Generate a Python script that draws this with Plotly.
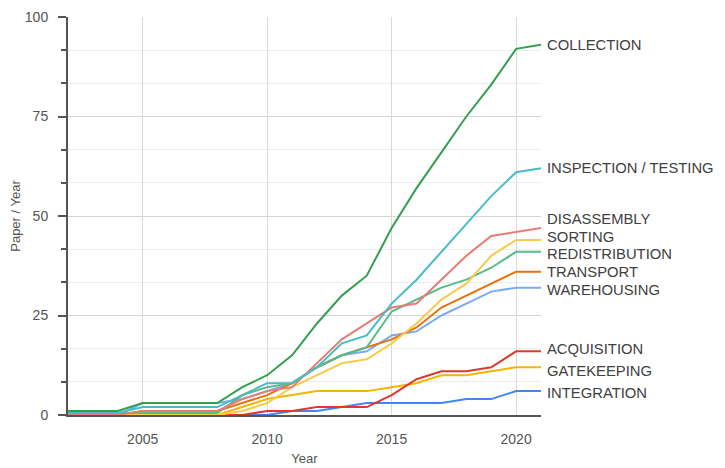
import plotly.graph_objects as go

years = list(range(2002, 2022))

collection     = [1, 1, 1, 3, 3, 3, 3, 7, 10, 15, 23, 30, 35, 47, 57, 66, 75, 83, 92, 93]
inspection     = [0.5, 0.5, 0.5, 2, 2, 2, 2, 5, 8, 8, 12, 18, 20, 28, 34, 41, 48, 55, 61, 62]
disassembly    = [0, 0, 0, 1, 1, 1, 1, 4, 6, 7, 13, 19, 23, 27, 28, 34, 40, 45, 46, 47]
sorting        = [0, 0, 0, 0, 0, 0, 0, 1, 3, 7, 10, 13, 14, 18, 23, 29, 33, 40, 44, 44]
redistribution = [0.5, 0.5, 0.5, 0.5, 0.5, 0.5, 0.5, 5, 7, 8, 12, 15, 17, 26, 29, 32, 34, 37, 41, 41]
transport      = [0, 0, 0, 1, 1, 1, 1, 3, 5, 8, 12, 15, 17, 19, 22, 27, 30, 33, 36, 36]
warehousing    = [0, 0, 0, 3, 3, 3, 3, 4, 6, 8, 12, 15, 16, 20, 21, 25, 28, 31, 32, 32]
acquisition    = [0, 0, 0, 0, 0, 0, 0, 0, 1, 1, 2, 2, 2, 5, 9, 11, 11, 12, 16, 16]
gatekeeping    = [0, 0, 0, 0, 0, 0, 0, 2, 4, 5, 6, 6, 6, 7, 8, 10, 10, 11, 12, 12]
integration    = [0, 0, 0, 0, 0, 0, 0, 0, 0, 1, 1, 2, 3, 3, 3, 3, 4, 4, 6, 6]

series_names = ["COLLECTION", "INSPECTION / TESTING", "DISASSEMBLY", "SORTING",
                "REDISTRIBUTION", "TRANSPORT", "WAREHOUSING", "ACQUISITION",
                "GATEKEEPING", "INTEGRATION"]
series_values = [collection, inspection, disassembly, sorting, redistribution,
                 transport, warehousing, acquisition, gatekeeping, integration]

colors = ["#34a04f", "#46bdc6", "#e67c73", "#f7cb4d", "#57bb8a",
          "#e8710a", "#7baaf7", "#e0392b", "#f4b400", "#4285f4"]
label_yshift = [0, 0, 9, 3, -2, 0, -2, 2, -4, -2]

fig = go.Figure()
# draw in reverse so COLLECTION is on top
for name, vals, col in reversed(list(zip(series_names, series_values, colors))):
    fig.add_trace(go.Scatter(x=years, y=vals, mode="lines", name=name,
                             line=dict(color=col, width=2), showlegend=False))

for name, vals, col, ys in zip(series_names, series_values, colors, label_yshift):
    fig.add_annotation(x=years[-1], y=vals[-1], text=name, showarrow=False,
                       xanchor="left", yanchor="middle", xshift=4, yshift=ys,
                       font=dict(size=14.8, color="#404040"))

fig.update_layout(
    width=725, height=468,
    margin=dict(l=60, r=192, t=9, b=61, autoexpand=False),
    paper_bgcolor="white", plot_bgcolor="white",
    font=dict(family="Liberation Sans, Arial, sans-serif", size=14, color="#555"),
)
fig.update_xaxes(
    range=[2002, 2021], tickvals=[2005, 2010, 2015, 2020],
    showgrid=True, gridcolor="#d9d9d9", gridwidth=1,
    showline=True, linecolor="#555", linewidth=1.5,
    ticks="", ticklabelstandoff=10, automargin=False,
    tickfont=dict(size=14, color="#555"),
    title=dict(text="Year", standoff=8, font=dict(size=13, color="#555")),
    zeroline=False,
)
fig.update_yaxes(
    range=[0, 100], dtick=25, tick0=0,
    showgrid=True, gridcolor="#d6d6d6", gridwidth=1.3,
    minor=dict(dtick=25/3, tick0=0, showgrid=True, gridcolor="#ececec",
               ticks="outside", ticklen=5, tickcolor="#555", tickwidth=1.5),
    showline=True, linecolor="#555", linewidth=2,
    ticks="outside", ticklen=8, tickcolor="#555", tickwidth=1.5,
    ticklabelstandoff=7, automargin=False,
    tickfont=dict(size=14, color="#555"),
    title=dict(text="Paper / Year", standoff=10, font=dict(size=13, color="#555")),
    zeroline=False,
)

fig.write_html("out.html")
